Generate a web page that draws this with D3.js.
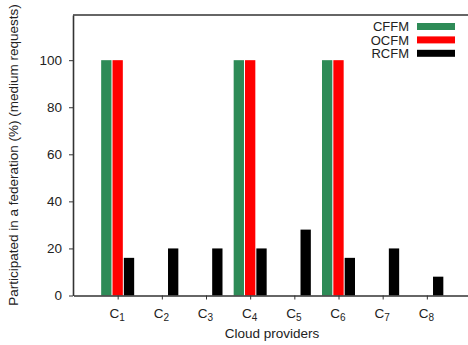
<!DOCTYPE html>
<html>
<head>
<meta charset="utf-8">
<script src="https://cdn.jsdelivr.net/npm/d3@7"></script>
<style>
  body { margin: 0; background: #fff; }
  svg { font-family: "Liberation Sans", Arial, sans-serif; }
  .axis path, .axis line { stroke: #333; }
  .axis text { fill: #222; font-size: 13.5px; }
</style>
</head>
<body>
<div class="canvas"></div>
<script>
// chart data
var providers = ['1', '2', '3', '4', '5', '6', '7', '8'];
var series = ['CFFM', 'OCFM', 'RCFM'];
var colors = ['#2e8b57', '#ff0000', '#000000'];
var cffm = [100, 0, 0, 100, 0, 100, 0, 0];
var ocfm = [100, 0, 0, 100, 0, 100, 0, 0];
var rcfm = [16, 20, 20, 20, 28, 16, 20, 8];
var yTicks = [0, 20, 40, 60, 80, 100];

var values = [cffm, ocfm, rcfm];
var width = 468, height = 345;
var plotLeft = 73, plotTop = 15, plotBottom = 295.5;

var svg = d3.select('.canvas').append('svg')
	.attr('width', width).attr('height', height);

var x = d3.scaleLinear().domain([0, 9]).range([plotLeft + 0.5, 471]);
var y = d3.scaleLinear().domain([0, 119.2]).range([plotBottom, plotTop]);
var sub = d3.scaleBand().domain(series).range([-16.5, 16.5]).paddingInner(0.09);

// bars
var rows = [];
providers.forEach(function(p, i) {
	series.forEach(function(s, j) {
		rows.push({i: i, s: s, j: j, v: values[j][i]});
	});
});

svg.append('g').selectAll('rect')
	.data(rows.filter(d => d.v > 0))
	.enter()
	.append('rect')
	.attr('x', d => x(d.i + 1) + sub(d.s))
	.attr('width', sub.bandwidth())
	.attr('y', d => y(d.v))
	.attr('height', d => y(0) - y(d.v))
	.attr('fill', d => colors[d.j]);

// y axis
var yAxis = svg.append('g').classed('axis', true)
	.attr('transform', 'translate(' + plotLeft + ',0)')
	.call(d3.axisLeft(y).tickValues(yTicks).tickSize(4).tickPadding(7).tickSizeOuter(0));
yAxis.select('.domain').attr('stroke-width', 1.6);

// x axis
var xAxis = svg.append('g').classed('axis', true)
	.attr('transform', 'translate(0,' + plotBottom + ')')
	.call(d3.axisBottom(x).tickValues(d3.range(1, 9)).tickSize(4).tickSizeOuter(0).tickFormat(''));
xAxis.select('.domain').attr('stroke-width', 1.6);
xAxis.selectAll('.tick').append('text')
	.attr('y', 22)
	.attr('dx', -1)
	.attr('text-anchor', 'middle')
	.each(function(d) {
		var t = d3.select(this);
		t.append('tspan').text('C');
		t.append('tspan').attr('dy', 3.5).attr('font-size', '10px').text(providers[d - 1]);
	});

// top frame line
svg.append('line')
	.attr('x1', plotLeft).attr('x2', width)
	.attr('y1', plotTop).attr('y2', plotTop)
	.attr('stroke', '#333').attr('stroke-width', 1.6);

// axis labels
svg.append('text')
	.attr('x', 272).attr('y', 338)
	.attr('text-anchor', 'middle')
	.attr('font-size', '13.5px').attr('fill', '#222')
	.text('Cloud providers');

svg.append('text')
	.attr('transform', 'translate(18,155) rotate(-90)')
	.attr('text-anchor', 'middle')
	.attr('font-size', '13.5px').attr('fill', '#222')
	.text('Participated in a federation (%) (medium requests)');

// legend
var legend = svg.append('g').selectAll('g')
	.data(series)
	.enter()
	.append('g')
	.attr('transform', (d, i) => 'translate(0,' + (26.5 + i * 13.4) + ')');
legend.append('text')
	.attr('x', 409).attr('y', 4.8)
	.attr('text-anchor', 'end')
	.attr('font-size', '13px').attr('fill', '#222')
	.text(d => d);
legend.append('rect')
	.attr('x', 417).attr('y', -3.5)
	.attr('width', 38).attr('height', 7)
	.attr('fill', (d, i) => colors[i]);
</script>
</body>
</html>
